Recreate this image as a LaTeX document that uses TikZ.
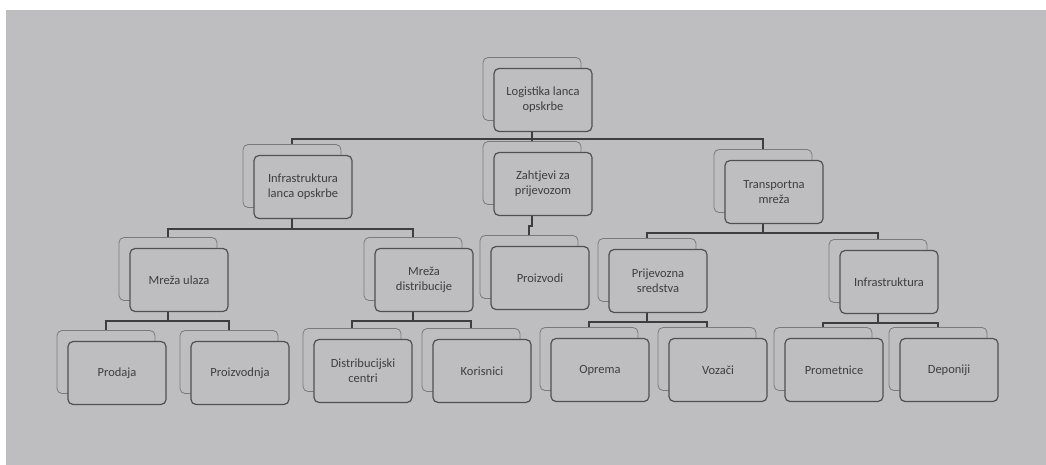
\documentclass[tikz,border=0pt]{standalone}
\usepackage{fontspec}
\setmainfont{Carlito}
\usepackage{tikz}
\usetikzlibrary{shadows}
\usepackage{xcolor}
\definecolor{paper}{RGB}{190,189,192}
\definecolor{boxline}{RGB}{80,80,83}
\definecolor{backline}{RGB}{122,122,125}
\definecolor{ink}{RGB}{62,62,64}

% offset of the back copy of every box
\newcommand{\bk}{11pt}
% parent -> child link: drop below the parent, across, down to the back copy
\newcommand{\link}[3]{\draw[conn] ([xshift=-\bk]#1.south) -- ++(0,#3) -| ([xshift=-\bk,yshift=\bk]#2.north);}

\begin{document}
\begin{tikzpicture}[x=1pt, y=-1pt,
  box/.style={draw=boxline, line width=1.2pt, rounded corners=5pt, fill=paper,
    minimum width=98pt, minimum height=63pt, align=center, text=ink,
    font=\fontsize{12.5}{15}\selectfont,
    copy shadow={shadow xshift=-\bk, shadow yshift=\bk, draw=backline, fill=paper, line width=0.8pt}},
  conn/.style={draw=ink, line width=2.4pt}]
  % photo margin and paper
  \fill[white] (0,0) rectangle (1046,465);
  \fill[paper] (6,10) rectangle (1046,465);
  % level 0
  \node[box] (root) at (543,100) {Logistika lanca\\opskrbe};
  % level 1
  \node[box] (infl)  at (303,187) {Infrastruktura\\lanca opskrbe};
  \node[box] (zaht)  at (543,184) {Zahtjevi za\\prijevozom};
  \node[box] (trans) at (774,192) {Transportna\\mreža};
  % level 2
  \node[box] (mul)   at (179,280) {Mreža ulaza};
  \node[box] (mdist) at (424,280) {Mreža\\distribucije};
  \node[box] (proi)  at (540,278) {Proizvodi};
  \node[box] (prsr)  at (658,281) {Prijevozna\\sredstva};
  \node[box] (infra) at (889,282) {Infrastruktura};
  % level 3
  \node[box] (prod)  at (117,373) {Prodaja};
  \node[box] (proiz) at (240,373) {Proizvodnja};
  \node[box] (dcen)  at (363,371) {Distribucijski\\centri};
  \node[box] (kor)   at (482,371) {Korisnici};
  \node[box] (opr)   at (600,370) {Oprema};
  \node[box] (voz)   at (718,370) {Vozači};
  \node[box] (prom)  at (834,370) {Prometnice};
  \node[box] (dep)   at (949,370) {Deponiji};
  % connectors
  \link{root}{infl}{7}
  \link{root}{zaht}{7}
  \link{root}{trans}{7}
  \link{infl}{mul}{10}
  \link{infl}{mdist}{10}
  \link{zaht}{proi}{10}
  \link{trans}{prsr}{9}
  \link{trans}{infra}{9}
  \link{mul}{prod}{9}
  \link{mul}{proiz}{9}
  \link{mdist}{dcen}{9}
  \link{mdist}{kor}{9}
  \link{prsr}{opr}{9}
  \link{prsr}{voz}{9}
  \link{infra}{prom}{9}
  \link{infra}{dep}{9}
\end{tikzpicture}
\end{document}
